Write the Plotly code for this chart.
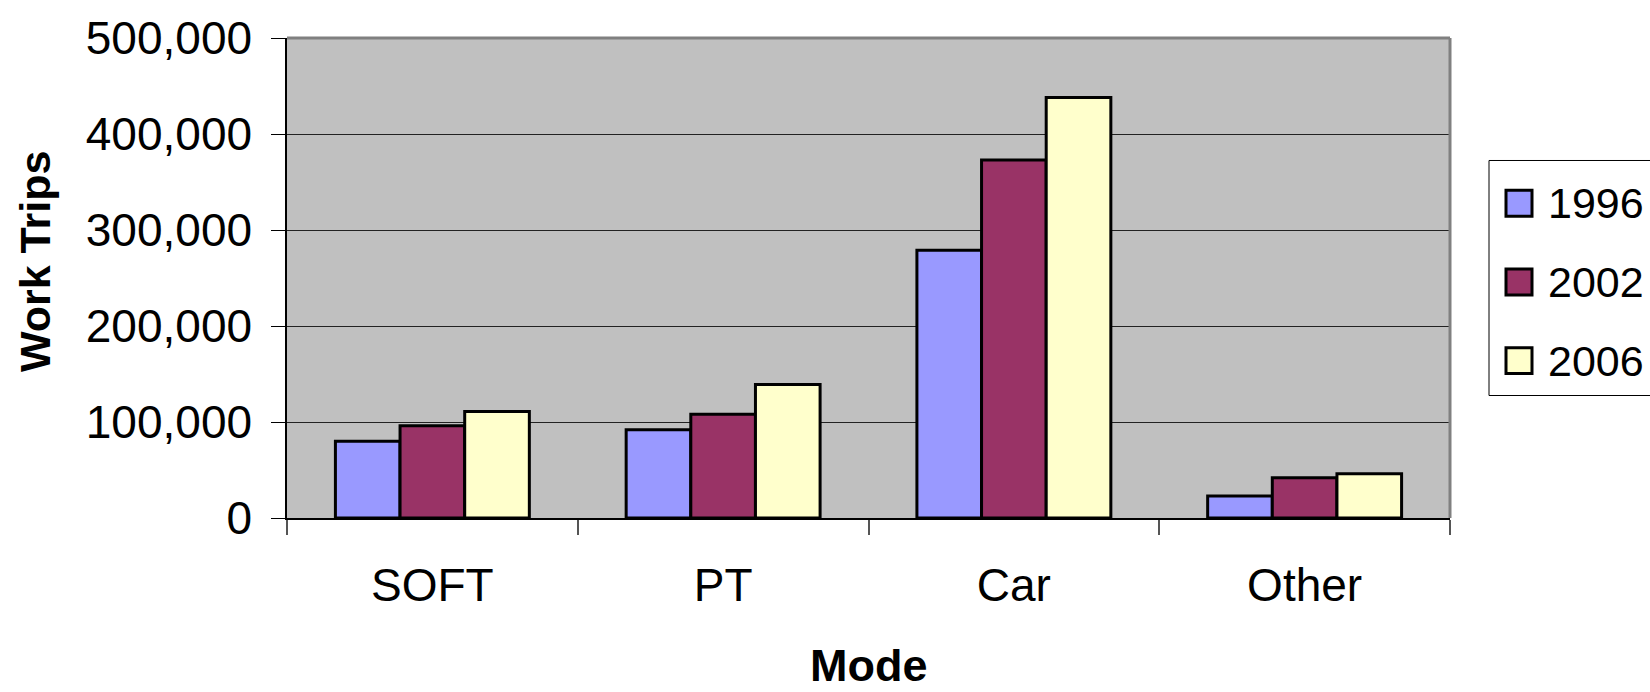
import plotly.graph_objects as go

# Work trips by travel mode, three survey years
modes = ["SOFT", "PT", "Car", "Other"]
years = ["1996", "2002", "2006"]
trips_1996 = [80000, 92000, 279000, 23000]
trips_2002 = [96000, 108000, 373000, 42000]
trips_2006 = [111000, 139000, 438000, 46000]
y_ticks = [0, 100000, 200000, 300000, 400000, 500000]

series = [trips_1996, trips_2002, trips_2006]
colors = ["#9999FF", "#993366", "#FFFFCC"]

FONT = "Arial, Liberation Sans, sans-serif"
W, H = 1650, 692
ML, MR, MT, MB = 287, 200, 36, 174
PW, PH = W - ML - MR, H - MT - MB


def px_x(x):
    return (x - ML) / PW


def px_y(y):
    return (H - MB - y) / PH


fig = go.Figure()
for name, vals, col in zip(years, series, colors):
    fig.add_trace(go.Bar(
        x=modes, y=vals, name=name,
        marker=dict(color=col, line=dict(color="black", width=3)),
        showlegend=False,
    ))

shapes = [
    # plot-area frame (top and right edges)
    dict(type="line", xref="paper", yref="paper", x0=0, x1=1, y0=1, y1=1,
         line=dict(color="#808080", width=3)),
    dict(type="line", xref="paper", yref="paper", x0=1, x1=1, y0=0, y1=1,
         line=dict(color="#808080", width=3)),
    # legend box
    dict(type="rect", xref="paper", yref="paper",
         x0=px_x(1489), x1=px_x(1700), y0=px_y(395), y1=px_y(159),
         line=dict(color="black", width=1), fillcolor="white"),
]
annotations = []
legend_rows = [202, 281, 360]
for name, col, cy in zip(years, colors, legend_rows):
    shapes.append(dict(type="rect", xref="paper", yref="paper",
                       x0=px_x(1506), x1=px_x(1532),
                       y0=px_y(cy + 13), y1=px_y(cy - 13),
                       line=dict(color="black", width=3), fillcolor=col))
    annotations.append(dict(text=name, xref="paper", yref="paper",
                            x=px_x(1546), y=px_y(cy), xanchor="left", yanchor="middle",
                            showarrow=False, font=dict(family=FONT, size=43, color="black")))

annotations += [
    dict(text="<b>Work Trips</b>", xref="paper", yref="paper",
         x=px_x(35), y=px_y(261), textangle=-90, showarrow=False,
         xanchor="center", yanchor="middle",
         font=dict(family=FONT, size=43, color="black")),
    dict(text="<b>Mode</b>", xref="paper", yref="paper",
         x=px_x(869), y=px_y(666), showarrow=False,
         xanchor="center", yanchor="middle",
         font=dict(family=FONT, size=45, color="black")),
]

fig.update_layout(
    width=W, height=H,
    margin=dict(l=ML, r=MR, t=MT, b=MB, pad=0),
    paper_bgcolor="white", plot_bgcolor="#C0C0C0",
    barmode="group", bargap=0.333, bargroupgap=0,
    shapes=shapes, annotations=annotations,
    font=dict(family=FONT, color="black"),
    xaxis=dict(
        type="category", tickson="boundaries", ticks="outside", ticklen=15,
        tickwidth=2, tickcolor="#555555", showline=True, linecolor="black", linewidth=1.5,
        showgrid=False, tickfont=dict(size=46), ticklabelstandoff=26,
    ),
    yaxis=dict(
        range=[0, 500000], tickvals=y_ticks, tickformat=",", ticks="outside",
        ticklen=14, tickwidth=1, tickcolor="black", showline=True, linecolor="black",
        linewidth=1.5, showgrid=True, gridcolor="#222222", gridwidth=1,
        zeroline=False, tickfont=dict(size=46), ticklabelstandoff=10,
    ),
)

fig.write_html("out.html")
